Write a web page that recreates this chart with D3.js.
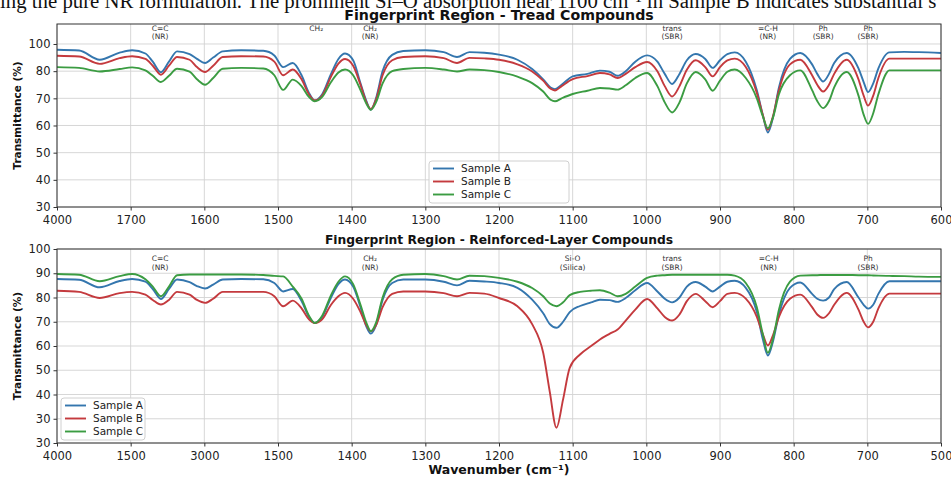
<!DOCTYPE html>
<html><head><meta charset="utf-8">
<script src="https://cdn.jsdelivr.net/npm/d3@7"></script>
<style>body{margin:0;background:#fff;overflow:hidden}svg{display:block}</style>
</head><body>
<svg id="chart" width="951" height="477"></svg>
<script>
// ---------- DATA ----------
const seriesNames = ["Sample A", "Sample B", "Sample C"];
const seriesColors = ["#3476ae", "#c43a3e", "#3b9c42"];

const topWavenumbers = [1800,1770,1742,1715,1698, 1680,1670,1659,1648,1637, 1620,1610,1599,1588,1575,
  1550,1520,1505,1493,1480, 1468,1458,1450,1440,1428, 1418,1409,1398,1388,1380, 1374,1367,1358,1345,1330,
  1300,1275,1257,1240,1220, 1200,1175,1155,1140,1130, 1124,1115,1100,1080,1063, 1050,1039,1028,1015,999,
  985,975,965,955,945, 933,920,910,900,890, 880,865,850,842,835, 828,820,805,791,775,
  768,760,752,745,728, 712,705,699,692,685, 670,650,630,600];
const topSampleA = [87.9,87.6,84.2,86.8,87.7, 86.5,83.5,79.6,83.5,87.3, 86.3,84.5,83.0,85.0,87.3,
  87.7,87.5,85.8,81.5,83.0, 78.5,72.0,69.2,71.5,79.0, 84.5,86.5,84.0,75.5,69.0, 65.8,70.0,80.0,86.0,87.4,
  87.7,87.0,85.2,87.0,86.8, 86.1,84.2,80.8,77.0,74.0, 73.4,75.0,78.1,79.0,80.2, 79.8,78.3,80.0,83.5,85.8,
  83.5,79.0,75.3,79.0,84.0, 86.3,84.5,81.2,84.0,86.3, 86.9,83.5,73.0,64.0,57.4, 63.0,74.0,84.5,86.7,82.5,
  79.0,76.2,79.0,83.0,86.7, 81.0,76.0,72.3,75.5,81.0, 86.9,87.1,87.0,86.7];
const topSampleB = [85.7,85.4,82.7,84.8,85.5, 84.5,82.0,78.7,82.0,85.2, 84.2,81.5,79.7,82.0,85.2,
  85.5,85.4,83.5,78.5,80.6, 77.0,71.5,69.2,71.0,78.0, 82.8,84.5,82.0,75.0,68.5, 66.1,69.5,78.5,84.0,85.2,
  85.5,84.8,83.0,84.9,84.7, 84.2,82.5,79.9,76.5,73.5, 72.9,74.5,77.1,78.2,79.3, 78.8,77.5,79.0,81.5,83.4,
  80.0,74.5,70.7,74.5,80.5, 84.0,81.5,78.1,81.5,84.0, 84.6,81.5,72.0,64.0,58.4, 63.5,73.0,82.5,84.2,78.5,
  75.0,72.5,75.0,79.0,84.2, 77.0,71.0,67.3,71.0,77.5, 84.6,84.6,84.6,84.6];
const topSampleC = [81.5,81.2,79.9,80.8,81.4, 80.3,78.3,76.0,78.3,80.9, 79.8,77.0,75.0,77.5,80.9,
  81.2,81.0,78.5,73.1,76.9, 74.5,70.5,68.9,70.5,76.0, 79.5,80.6,78.5,73.0,68.0, 65.8,68.5,75.5,80.0,80.8,
  81.2,80.6,79.9,80.6,80.4, 79.7,78.0,75.6,72.5,69.5, 68.9,70.0,71.6,72.8,73.8, 73.6,73.2,74.8,77.5,79.3,
  74.5,68.5,64.8,68.5,75.5, 79.7,77.0,72.8,76.5,79.8, 80.6,77.5,70.0,63.5,59.0, 63.0,71.5,78.5,80.3,73.0,
  69.0,66.4,69.0,74.0,79.7, 71.0,64.0,60.6,64.5,71.5, 80.3,80.3,80.3,80.3];

const bottomWavenumbers = [1800,1770,1742,1715,1698, 1680,1670,1659,1648,1637, 1620,1610,1599,1588,1575,
  1550,1520,1505,1493,1480, 1468,1458,1450,1440,1428, 1418,1409,1398,1388,1380, 1374,1367,1358,1345,1330,
  1300,1275,1257,1240,1220, 1200,1175,1155,1140,1131, 1122,1113,1104,1090,1075, 1063,1050,1039,1028,1015,
  999,985,975,965,955, 945,933,920,910,900, 890,880,865,850,842, 835,828,820,805,791,
  775,768,760,752,745, 728,712,705,699,692, 685,670,650,630,600];
const bottomSampleA = [87.6,87.3,84.2,86.8,87.6, 86.5,83.5,79.4,83.5,87.4, 86.3,84.7,83.7,85.3,87.4,
  87.6,87.5,86.0,82.5,83.5, 78.5,72.0,69.5,72.0,80.0, 85.5,87.4,84.5,76.0,68.0, 65.1,68.5,79.0,86.0,87.4,
  87.4,86.5,85.0,86.9,86.6, 86.0,84.0,79.1,73.5,69.0, 67.5,70.0,74.0,76.5,78.0, 79.1,78.9,78.2,79.8,83.0,
  86.0,82.5,79.5,78.0,80.0, 84.5,86.4,84.5,82.5,84.5, 86.5,86.9,84.0,74.0,63.0, 56.1,62.0,73.0,84.0,86.2,
  81.5,79.5,78.7,80.0,83.5, 86.4,80.0,77.0,75.4,77.0, 81.5,86.7,86.7,86.7,86.7];
const bottomSampleB = [82.8,82.3,79.8,81.8,82.3, 81.2,79.0,77.1,79.0,82.3, 81.2,79.0,77.8,79.5,82.3,
  82.3,82.3,80.5,76.4,78.7, 75.5,71.0,69.5,71.0,77.0, 80.5,81.9,79.5,74.0,68.5, 66.1,68.5,76.0,81.5,82.5,
  82.5,81.8,80.5,81.9,81.6, 79.8,76.4,69.0,57.2,41.0, 26.3,38.0,51.0,56.5,60.0, 62.7,65.0,66.8,70.5,75.0,
  79.4,75.5,72.0,70.5,73.0, 78.5,81.5,78.5,76.0,78.5, 81.5,81.9,79.5,72.0,65.0, 60.2,64.5,72.0,79.5,81.2,
  76.0,73.0,71.6,73.5,77.0, 81.9,75.0,70.0,67.7,70.0, 75.5,81.6,81.6,81.6,81.6];
const bottomSampleC = [89.7,89.4,86.7,88.8,89.7, 87.5,84.5,80.5,84.5,89.2, 89.5,89.5,89.5,89.5,89.5,
  89.5,89.3,88.9,88.7,84.5, 79.5,72.5,69.5,72.5,81.0, 86.5,88.7,85.5,77.0,69.5, 66.1,69.5,80.0,87.5,89.4,
  89.7,88.8,87.4,89.0,88.8, 88.1,86.5,83.9,80.5,77.5, 76.4,78.0,81.0,82.3,82.8, 83.0,82.0,80.5,81.5,84.5,
  88.1,89.0,89.2,89.4,89.4, 89.4,89.4,89.4,89.4,89.4, 89.4,89.0,86.0,76.0,65.0, 57.2,63.0,75.0,86.5,89.0,
  89.2,89.2,89.3,89.3,89.3, 89.3,89.2,89.2,89.2,89.1, 89.0,88.9,88.8,88.6,88.5];

const xTickValues = [1800,1700,1600,1500,1400,1300,1200,1100,1000,900,800,700,600];
const topXTickLabels = ["4000","1700","1600","1500","1400","1300","1200","1100","1000","900","800","700","600"];
const bottomXTickLabels = ["4000","1500","3000","1500","1400","1300","1200","1100","1000","900","800","700","500"];
const topYTickValues = [30,40,50,60,70,80,90];
const topYTickLabels = ["30","40","50","60","70","80","100"];
const bottomYTickValues = [20,30,40,50,60,70,80,90,100];
const bottomYTickLabels = ["30","30","40","50","60","70","80","90","100"];

const topAnnotationX = [1660,1448,1375,965,835,760,699];
const topAnnotationText = [["C=C","(NR)"],["CH₂"],["CH₂","(NR)"],["trans","(SBR)"],["=C-H","(NR)"],["Ph","(SBR)"],["Ph","(SBR)"]];
const bottomAnnotationX = [1660,1375,1100,965,834,699];
const bottomAnnotationText = [["C=C","(NR)"],["CH₂","(NR)"],["Si-O","(Silica)"],["trans","(SBR)"],["=C-H","(NR)"],["Ph","(SBR)"]];

const topTitle = "Fingerprint Region - Tread Compounds";
const bottomTitle = "Fingerprint Region - Reinforced-Layer Compounds";
const headerText = "ing the pure NR formulation. The prominent Si\u2013O absorption near 1100 cm\u207B\u00B9 in Sample B indicates substantial s";

// ---------- DRAW ----------
const svg = d3.select("#chart");
const FONT = "'DejaVu Sans', sans-serif";
svg.append("rect").attr("width",951).attr("height",477).attr("fill","#fff");

svg.append("text").attr("x",0).attr("y",8)
  .attr("font-family","'Liberation Serif','Times New Roman',serif").attr("font-size",20.8)
  .attr("fill","#111").text(headerText);

const x = d3.scaleLinear().domain([1800,600]).range([57,941]);

function panel(cfg){
  const g = svg.append("g");
  const y = d3.scaleLinear().domain(cfg.yDomain).range([cfg.bottom, cfg.top]);
  // grid
  g.append("g").selectAll("line").data(xTickValues).join("line")
    .attr("x1",d=>x(d)).attr("x2",d=>x(d)).attr("y1",cfg.top).attr("y2",cfg.bottom)
    .attr("stroke","#d2d2d2").attr("stroke-width",0.9);
  g.append("g").selectAll("line").data(cfg.yTicks).join("line")
    .attr("x1",57).attr("x2",941).attr("y1",d=>y(d)).attr("y2",d=>y(d))
    .attr("stroke","#d2d2d2").attr("stroke-width",0.9);
  // series
  const line = d3.line().x(d=>x(d[0])).y(d=>y(d[1])).curve(d3.curveMonotoneX);
  cfg.series.forEach((vals,i)=>{
    g.append("path").datum(cfg.wn.map((w,j)=>[w,vals[j]]))
      .attr("d",line).attr("fill","none").attr("stroke",seriesColors[i])
      .attr("stroke-width",1.9).attr("stroke-linejoin","round");
  });
  // frame
  g.append("rect").attr("x",57).attr("y",cfg.top).attr("width",884).attr("height",cfg.bottom-cfg.top)
    .attr("fill","none").attr("stroke","#333").attr("stroke-width",1);
  // axes
  const xa = g.append("g").attr("transform",`translate(0,${cfg.bottom})`)
    .call(d3.axisBottom(x).tickValues(xTickValues).tickFormat((d,i)=>cfg.xLabels[i]).tickSize(3.5).tickSizeOuter(0));
  const ya = g.append("g").attr("transform","translate(57,0)")
    .call(d3.axisLeft(y).tickValues(cfg.yTicks).tickFormat((d,i)=>cfg.yLabels[i]).tickSize(3.5).tickSizeOuter(0));
  [xa,ya].forEach(a=>{
    a.select(".domain").remove();
    a.selectAll("line").attr("stroke","#333");
    a.selectAll("text").attr("font-family",FONT).attr("font-size",11.5).attr("fill","#222");
  });
  xa.selectAll("text").attr("dy","0.95em");
  // annotations
  cfg.annX.forEach((w,i)=>{
    const t = g.append("text").attr("x",x(w)).attr("text-anchor","middle")
      .attr("font-family",FONT).attr("font-size",7.5).attr("fill","#333");
    cfg.annText[i].forEach((s,k)=>{
      t.append("tspan").attr("x",x(w)).attr("y",cfg.annY + k*cfg.annDy).text(s);
    });
  });
  // title
  g.append("text").attr("x",499).attr("y",cfg.top-cfg.titleGap).attr("text-anchor","middle")
    .attr("font-family",FONT).attr("font-weight","bold").attr("font-size",cfg.titleSize).attr("fill","#111")
    .text(cfg.title);
  // y label
  g.append("text").attr("transform",`translate(21,${(cfg.top+cfg.bottom)/2}) rotate(-90)`)
    .attr("text-anchor","middle").attr("font-family",FONT).attr("font-weight","bold")
    .attr("font-size",10.5).attr("fill","#111").text("Transmittance (%)");
  // legend
  const L = cfg.legend;
  const lg = g.append("g").attr("transform",`translate(${L.x},${L.y})`);
  lg.append("rect").attr("width",L.w).attr("height",L.h).attr("rx",3)
    .attr("fill","#fff").attr("fill-opacity",0.85).attr("stroke","#d0d0d0");
  seriesNames.forEach((n,i)=>{
    const yy = 7.5 + i*13;
    lg.append("line").attr("x1",4).attr("x2",25).attr("y1",yy).attr("y2",yy)
      .attr("stroke",seriesColors[i]).attr("stroke-width",1.9);
    lg.append("text").attr("x",32).attr("y",yy).attr("dy","0.35em")
      .attr("font-family",FONT).attr("font-size",10.5).attr("fill","#222").text(n);
  });
}

panel({top:24,bottom:207,yDomain:[30,97.36],yTicks:topYTickValues,yLabels:topYTickLabels,
  xLabels:topXTickLabels,wn:topWavenumbers,series:[topSampleA,topSampleB,topSampleC],
  annX:topAnnotationX,annText:topAnnotationText,annY:31,annDy:7.5,title:topTitle,
  titleSize:14.2,titleGap:4.5,legend:{x:429,y:161,w:140,h:42}});
panel({top:249,bottom:443,yDomain:[20,100],yTicks:bottomYTickValues,yLabels:bottomYTickLabels,
  xLabels:bottomXTickLabels,wn:bottomWavenumbers,series:[bottomSampleA,bottomSampleB,bottomSampleC],
  annX:bottomAnnotationX,annText:bottomAnnotationText,annY:261,annDy:9,title:bottomTitle,
  titleSize:12.3,titleGap:5,legend:{x:61,y:398,w:84,h:42}});

svg.append("text").attr("x",499).attr("y",474).attr("text-anchor","middle")
  .attr("font-family",FONT).attr("font-weight","bold").attr("font-size",12.5).attr("fill","#111")
  .text("Wavenumber (cm\u207B\u00B9)");
</script>
</body></html>
